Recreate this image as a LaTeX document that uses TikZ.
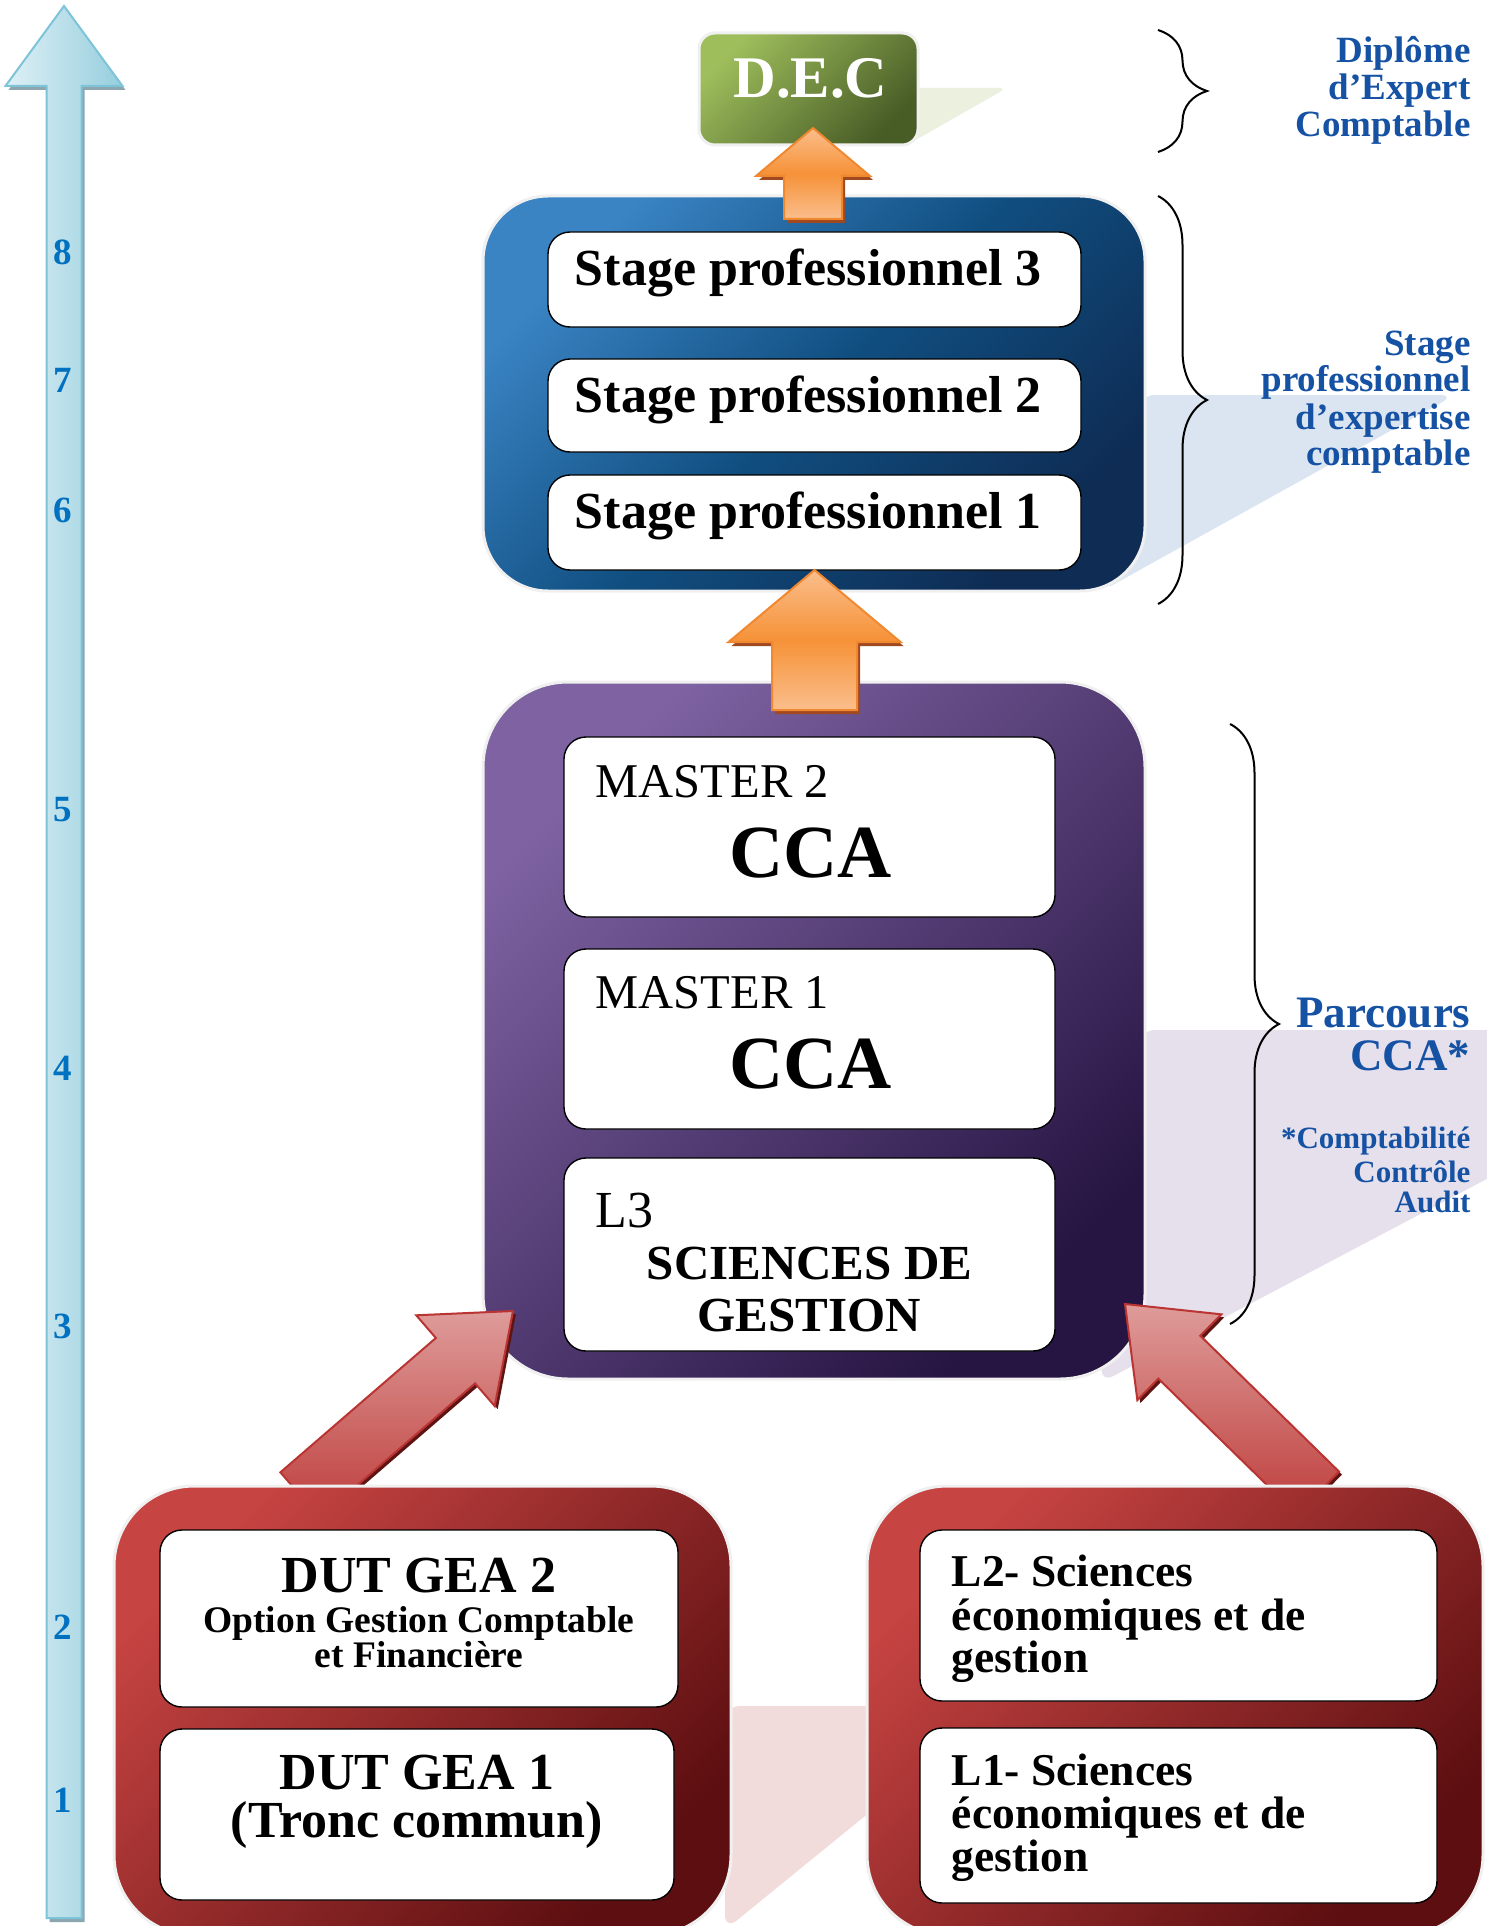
\documentclass[tikz,border=0pt]{standalone}
\usepackage{fontspec}
\setmainfont{Liberation Serif}
\usetikzlibrary{positioning,calc,shadows,decorations.pathreplacing}

\definecolor{aqualight}{RGB}{222,240,246}
\definecolor{aquadark}{RGB}{150,206,221}
\definecolor{aquaedge}{RGB}{125,196,216}
\definecolor{aquashade}{RGB}{140,165,175}
\definecolor{orglight}{RGB}{250,190,140}
\definecolor{orgmid}{RGB}{246,146,56}
\definecolor{orgedge}{RGB}{240,136,48}
\definecolor{orgshade}{RGB}{160,72,32}
\definecolor{redlight}{RGB}{222,156,154}
\definecolor{reddark}{RGB}{190,62,60}
\definecolor{rededge}{RGB}{185,52,50}
\definecolor{redshade}{RGB}{95,20,20}
\definecolor{boxred1}{RGB}{198,68,66}
\definecolor{boxred2}{RGB}{92,14,16}
\definecolor{boxpur1}{RGB}{126,98,162}
\definecolor{boxpur2}{RGB}{38,20,66}
\definecolor{boxblu1}{RGB}{58,132,196}
\definecolor{boxblu2}{RGB}{14,44,84}
\definecolor{boxblum}{RGB}{16,78,128}
\definecolor{boxgrn1}{RGB}{158,190,92}
\definecolor{boxgrn2}{RGB}{72,92,38}
\definecolor{shgrn}{RGB}{235,241,222}
\definecolor{shblu}{RGB}{219,229,241}
\definecolor{shpur}{RGB}{229,224,236}
\definecolor{shred}{RGB}{242,220,219}
\definecolor{labelblue}{RGB}{22,82,164}
\definecolor{yearblue}{RGB}{0,112,192}

% block arrow: style, tail, tip, shaft half width, head half width, head length
\newcommand{\blockarrow}[6]{%
  \path[#1] let \p1=#2, \p2=#3, \n1={atan2(\y2-\y1,\x2-\x1)},
    \n2={veclen(\x2-\x1,\y2-\y1)} in [shift={(\p1)}, rotate=\n1]
    (0,#4) -- ({\n2-#6},#4) -- ({\n2-#6},#5) -- (\n2,0)
    -- ({\n2-#6},-#5) -- ({\n2-#6},-#4) -- (0,-#4) -- cycle;
}

\tikzset{
  bigbox/.style={draw=gray!12, line width=3pt, inner sep=0pt},
  redbox/.style={bigbox, top color=boxred1, bottom color=boxred2,
    shading angle=45, rounded corners=80pt},
  purbox/.style={bigbox, top color=boxpur1, bottom color=boxpur2,
    shading angle=45, rounded corners=85pt},
  blubox/.style={bigbox, top color=boxblu1, bottom color=boxblu2,
    middle color=boxblum, shading angle=45, rounded corners=65pt},
  grnbox/.style={bigbox, top color=boxgrn1, bottom color=boxgrn2,
    shading angle=45, rounded corners=16pt},
  whitebox/.style={draw=black, fill=white, line width=1.4pt,
    rounded corners=22pt, inner sep=0pt},
  aquaarrow/.style={left color=aqualight, right color=aquadark,
    draw=aquaedge, line width=2pt,
    drop shadow={shadow xshift=3pt, shadow yshift=-4pt, fill=aquashade, opacity=1}},
  orangearrow/.style={top color=orglight, bottom color=orglight,
    middle color=orgmid, draw=orgedge, line width=2pt,
    drop shadow={shadow xshift=3pt, shadow yshift=-4pt, fill=orgshade, opacity=1}},
  redarrow/.style={top color=redlight, bottom color=reddark,
    draw=rededge, line width=2pt,
    drop shadow={shadow xshift=3pt, shadow yshift=-3pt, fill=redshade, opacity=1}},
  bracestyle/.style={draw=black, line width=2pt,
    decorate, decoration={brace, amplitude=49pt}},
  yearnum/.style={font=\bfseries\fontsize{37}{40}\selectfont, text=yearblue},
  dectext/.style={font=\bfseries\fontsize{59}{64}\selectfont, text=white, anchor=base},
  stagetext/.style={font=\bfseries\fontsize{52}{56}\selectfont, anchor=base west},
  mastertext/.style={font=\fontsize{48.5}{52}\selectfont, anchor=base west},
  ccatext/.style={font=\bfseries\fontsize{75}{80}\selectfont, anchor=base},
  scitext/.style={font=\bfseries\fontsize{49}{52}\selectfont, anchor=base},
  duttitle/.style={font=\bfseries\fontsize{52}{56}\selectfont, anchor=base},
  dutsub/.style={font=\bfseries\fontsize{37.5}{40}\selectfont, anchor=base},
  lictext/.style={font=\bfseries\fontsize{45.5}{48}\selectfont, anchor=base west},
  sidelabel/.style={font=\bfseries\fontsize{37}{40}\selectfont, text=labelblue, anchor=base east},
  sidebig/.style={font=\bfseries\fontsize{45}{48}\selectfont, text=labelblue, anchor=base east},
  sidesmall/.style={font=\bfseries\fontsize{31}{34}\selectfont, text=labelblue, anchor=base east}
}

\begin{document}
\begin{tikzpicture}[x=1pt,y=-1pt]
  \useasboundingbox (0,0) rectangle (1486,1926);
  \fill[white] (0,0) rectangle (1486,1926);

  % pale cast shadows behind the boxes
  \fill[shgrn, rounded corners=8pt] (905,88) -- (1007,88) -- (905,146) -- cycle;
  \fill[shblu, rounded corners=15pt] (1140,395) -- (1455,395) -- (1100,592) -- cycle;
  \fill[shpur, rounded corners=15pt] (1140,1030) -- (1500,1030) -- (1500,1172)
    -- (1100,1383) -- cycle;
  \fill[shred, rounded corners=15pt] (725,1706) -- (1000,1706) -- (725,1930) -- cycle;

  % year scale
  \coordinate (yrs) at (64,1918);
  \coordinate (yre) at (64,6);
  \blockarrow{aquaarrow}{(yrs)}{(yre)}{17.5}{58.5}{80}
  \foreach \n/\yy in {8/252,7/380,6/510,5/810,4/1068,3/1326,2/1627,1/1800}
    \node[yearnum] (yr\n) at (63,\yy) {\n};

  % diploma and internship block
  \node[grnbox, minimum width=219pt, minimum height=112pt] (dec) at (808.5,89) {};
  \node[dectext] (dectxt) at ($(dec.center)+(2,9)$) {D.E.C};

  \node[blubox, minimum width=662pt, minimum height=395pt] (stage) at (814,393.5) {};
  \node[whitebox, minimum width=533pt, minimum height=95pt] (st3) at (814.5,279.5) {};
  \node[whitebox, minimum width=533pt, minimum height=93pt] (st2) at (814.5,405.5) {};
  \node[whitebox, minimum width=533pt, minimum height=95pt] (st1) at (814.5,522.5) {};
  \node[stagetext] (st3txt) at ($(st3.north west)+(24,54)$) {Stage professionnel 3};
  \node[stagetext] (st2txt) at ($(st2.north west)+(24,54)$) {Stage professionnel 2};
  \node[stagetext] (st1txt) at ($(st1.north west)+(24,54)$) {Stage professionnel 1};

  % master block
  \node[purbox, minimum width=662pt, minimum height=697pt] (cca) at (814,1030.5) {};
  \node[whitebox, minimum width=491pt, minimum height=180pt] (m2) at (809.5,827) {};
  \node[whitebox, minimum width=491pt, minimum height=180pt] (m1) at (809.5,1039) {};
  \node[whitebox, minimum width=491pt, minimum height=193pt] (l3) at (809.5,1254.5) {};
  \node[mastertext] (m2a) at ($(m2.north west)+(29,61)$) {MASTER 2};
  \node[ccatext] (m2b) at ($(m2.north)+(1,141)$) {CCA};
  \node[mastertext] (m1a) at ($(m1.north west)+(29,60)$) {MASTER 1};
  \node[ccatext] (m1b) at ($(m1.north)+(1,140)$) {CCA};
  \node[mastertext, font=\fontsize{52}{56}\selectfont] (l3a) at ($(l3.north west)+(29,70)$) {L3};
  \node[scitext] (l3b) at ($(l3.north)+(0,122)$) {SCIENCES DE};
  \node[scitext] (l3c) at ($(l3.north)+(0,174)$) {GESTION};

  % arrows up
  \coordinate (o1s) at (813,219);
  \coordinate (o1e) at (813,128);
  \blockarrow{orangearrow}{(o1s)}{(o1e)}{29}{57}{48}
  \coordinate (o2s) at (814.5,710);
  \coordinate (o2e) at (814.5,570);
  \blockarrow{orangearrow}{(o2s)}{(o2e)}{42.5}{86}{72}
  \coordinate (r1s) at (300,1495);
  \coordinate (r1e) at (513,1311);
  \blockarrow{redarrow}{(r1s)}{(r1e)}{30}{60}{76}
  \coordinate (r2s) at (1318,1493);
  \coordinate (r2e) at (1125,1304);
  \blockarrow{redarrow}{(r2s)}{(r2e)}{30}{60}{76}

  % first years
  \node[redbox, minimum width=617pt, minimum height=449pt] (dut) at (422.5,1710.5) {};
  \node[redbox, minimum width=616pt, minimum height=449pt] (lic) at (1175,1710.5) {};
  \node[whitebox, minimum width=518pt, minimum height=177pt] (dut2) at (419,1618.5) {};
  \node[whitebox, minimum width=514pt, minimum height=171pt] (dut1) at (417,1814.5) {};
  \node[whitebox, minimum width=517pt, minimum height=171pt] (l2) at (1178.5,1615.5) {};
  \node[whitebox, minimum width=517pt, minimum height=175pt] (l1) at (1178.5,1815.5) {};
  \node[duttitle] (dut2a) at ($(dut2.north)+(0,63)$) {DUT GEA 2};
  \node[dutsub] (dut2b) at ($(dut2.north)+(0,103)$) {Option Gestion Comptable};
  \node[dutsub] (dut2c) at ($(dut2.north)+(0,138)$) {et Financière};
  \node[duttitle] (dut1a) at ($(dut1.north)+(0,61)$) {DUT GEA 1};
  \node[duttitle] (dut1b) at ($(dut1.north)+(0,109)$) {(Tronc commun)};
  \node[lictext] (l2a) at ($(l2.north west)+(29,57)$) {L2- Sciences};
  \node[lictext] (l2b) at ($(l2.north west)+(29,101)$) {économiques et de};
  \node[lictext] (l2c) at ($(l2.north west)+(29,143)$) {gestion};
  \node[lictext] (l1a) at ($(l1.north west)+(29,58)$) {L1- Sciences};
  \node[lictext] (l1b) at ($(l1.north west)+(29,101)$) {économiques et de};
  \node[lictext] (l1c) at ($(l1.north west)+(29,144)$) {gestion};

  % braces and side labels
  \coordinate (br1t) at (1158,30);
  \coordinate (br1b) at (1158,152);
  \coordinate (br2t) at (1158,196);
  \coordinate (br2b) at (1158,604);
  \coordinate (br3t) at (1230,724);
  \coordinate (br3b) at (1230,1324);
  \draw[bracestyle] (br1t) -- (br1b);
  \draw[bracestyle] (br2t) -- (br2b);
  \draw[bracestyle] (br3t) -- (br3b);

  \foreach \txt/\yy [count=\i] in {Diplôme/63, d’Expert/100, Comptable/137}
    \node[sidelabel] (dip\i) at (1474,\yy) {\txt};
  \foreach \txt/\yy [count=\i] in {Stage/355, professionnel/391, d’expertise/429, comptable/465}
    \node[sidelabel] (stg\i) at (1474,\yy) {\txt};
  \node[sidebig] (par1) at (1474,1027) {Parcours};
  \node[sidebig] (par2) at (1474,1070) {CCA*};
  \foreach \txt/\yy [count=\i] in {*Comptabilité/1148, Contrôle/1182, Audit/1212}
    \node[sidesmall] (cca\i) at (1474,\yy) {\txt};
\end{tikzpicture}
\end{document}
